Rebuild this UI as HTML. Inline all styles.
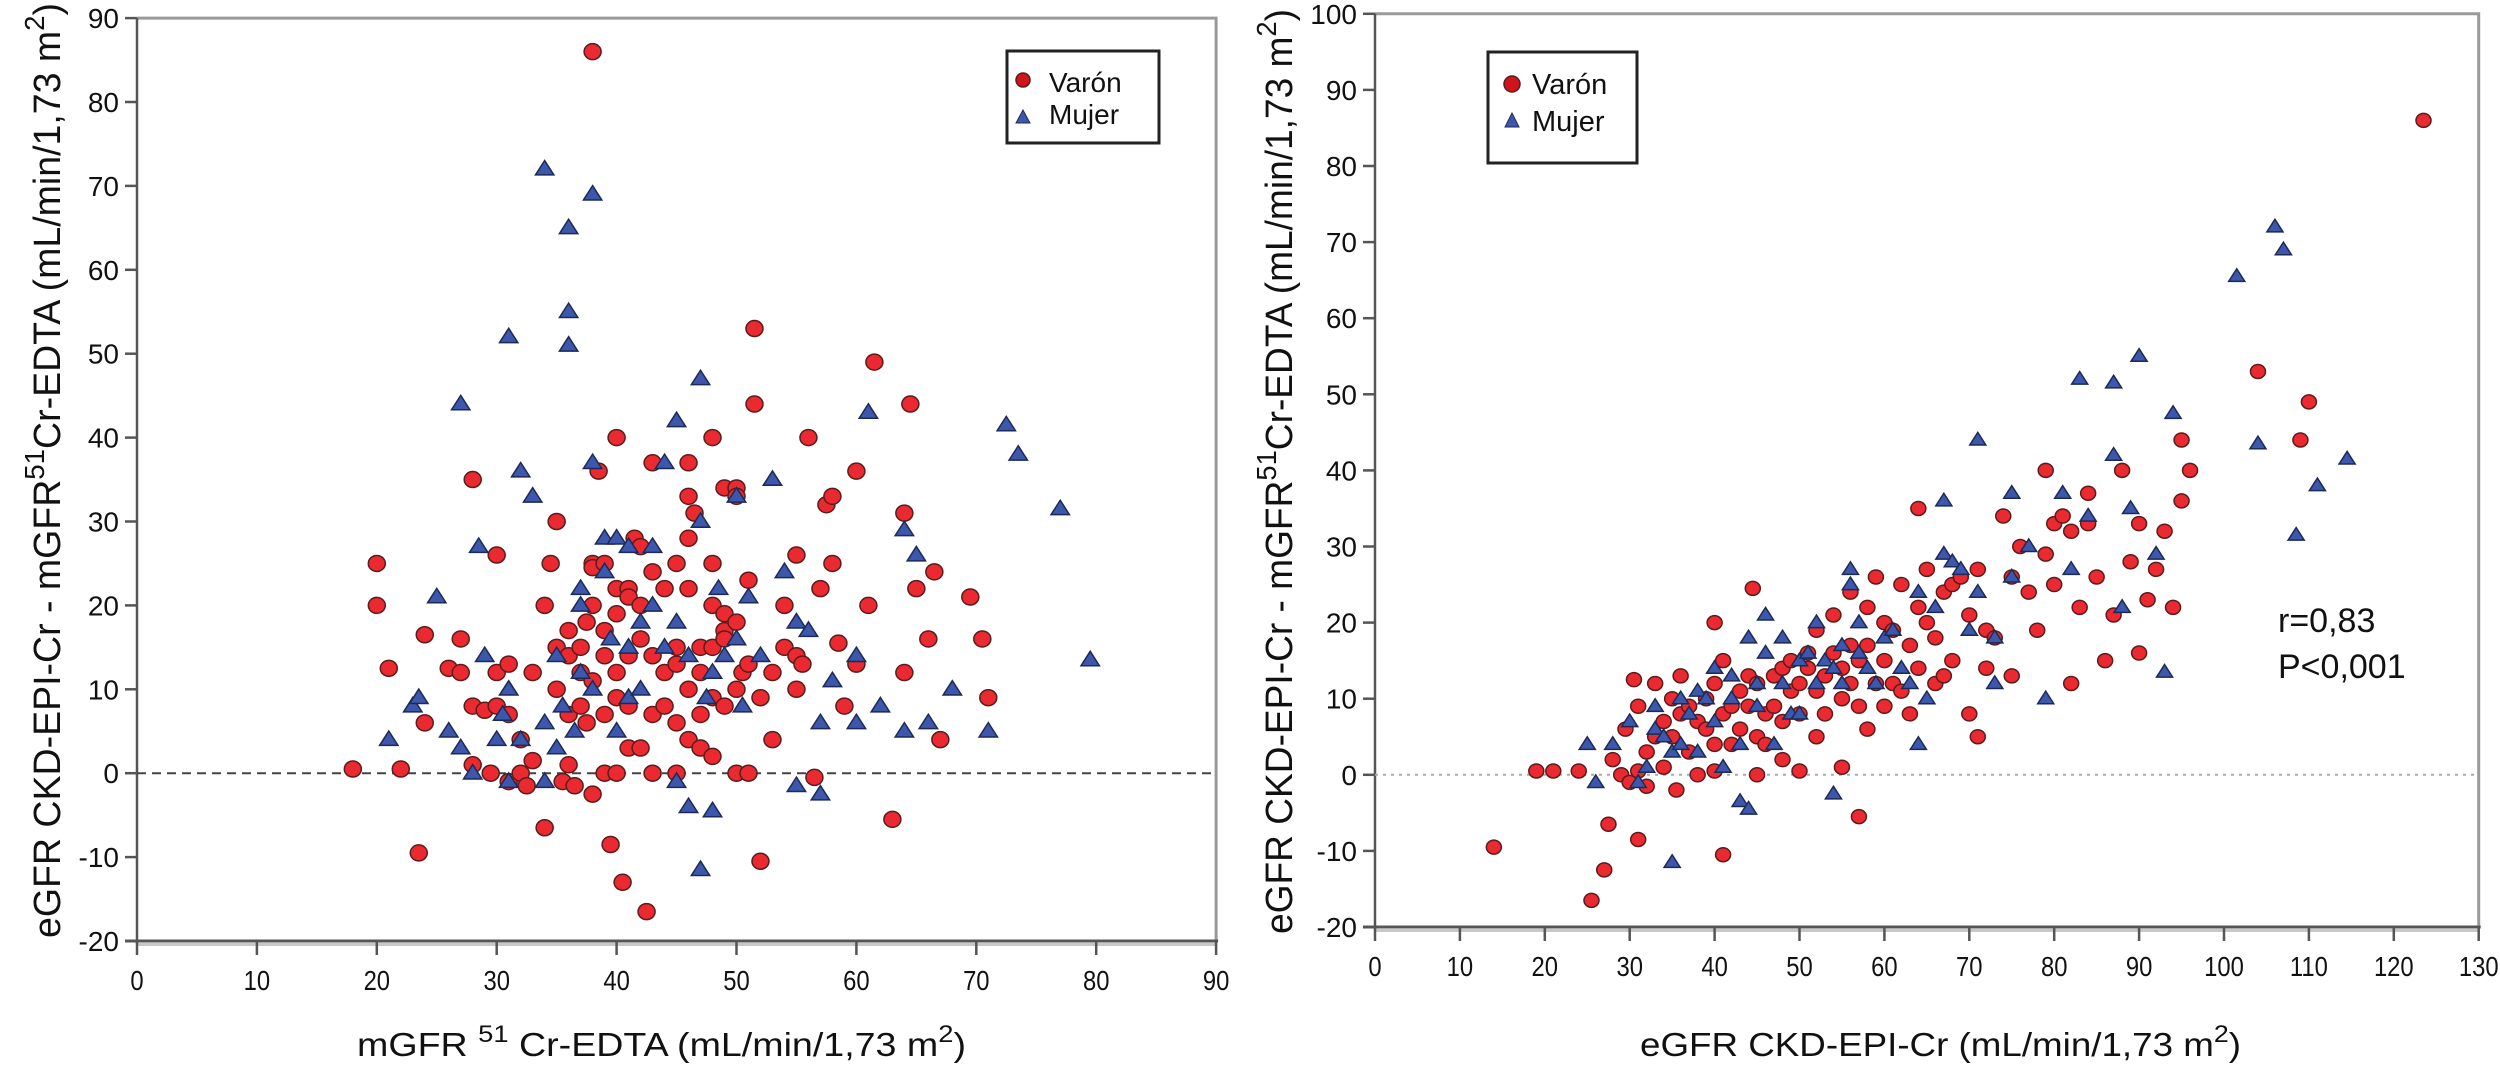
<!DOCTYPE html>
<html><head><meta charset="utf-8">
<style>
html,body{margin:0;padding:0;background:#fff;}
svg{display:block;font-family:"Liberation Sans",Arial,sans-serif;}
</style></head>
<body>
<svg id="chart" width="2500" height="1069" viewBox="0 0 2500 1069">
<g id="left"></g>
<g id="right"></g>
</svg>
<script>
// ---- Left chart data (mGFR vs difference) ----
const leftTicksX = [0,10,20,30,40,50,60,70,80,90];
const leftTicksY = [-20,-10,0,10,20,30,40,50,60,70,80,90];
const leftMenX = [18,20,20,21,22,23.5,24,24,26,27,27,28,28,28,29,29.5,30,30,30,31,31,31,32,32,32.5,33,33,34,34,34.5,35,35,35,35.5,36,36,36,36,36.5,37,37,37,37.5,37.5,38,38,38,38,38,38,38.5,39,39,39,39,39,39.5,40,40,40,40,40,40,40.5,41,41,41,41,41,41.5,42,42,42,42,42.5,43,43,43,43,43,44,44,44,45,45,45,45,45,46,46,46,46,46,46,46.5,47,47,47,47,48,48,48,48,48,48,49,49,49,49,49,50,50,50,50,50,50.5,51,51,51,51.5,51.5,52,52,53,53,54,54,55,55,55,55.5,56,56.5,57,57.5,58,58,58.5,59,60,60,61,61.5,63,64,64,64.5,65,66,66.5,67,69.5,70.5,71];
const leftMenY = [0.5,25,20,12.5,0.5,-9.5,16.5,6,12.5,16,12,35,8,1,7.5,0,26,12,8,13,7,-1,4,0,-1.5,1.5,12,20,-6.5,25,30,15,10,-1,17,14,7,1,-1.5,15,12,8,18,6,86,25,24.5,20,11,-2.5,36,25,17,14,7,0,-8.5,40,22,19,12,9,0,-13,22,21,14,8,3,28,27,20,16,3,-16.5,37,24,14,7,0,22,12,8,25,15,13,6,0,37,33,28,22,10,4,31,15,12,7,3,40,25,20,15,9,2,34,19,17,16,8,34,33,18,10,0,12,23,13,0,53,44,-10.5,9,12,4,20,15,26,14,10,13,40,-0.5,22,32,33,25,15.5,8,36,13,20,49,-5.5,31,12,44,22,16,24,4,21,16,9];
const leftWomenX = [21,23,23.5,25,26,27,27,28,28.5,29,30,30.5,31,31,31,32,32,33,34,34,34,35,35,35.5,36,36,36,36.5,37,37,37,38,38,38,39,39,39.5,40,40,41,41,41,42,42,43,43,44,44,45,45,45,46,46,47,47,47,47.5,48,48,48.5,49,50,50,50.5,51,52,53,54,55,55,56,57,57,58,60,60,61,62,64,64,65,66,68,71,72.5,73.5,77,79.5];
const leftWomenY = [4,8,9,21,5,44,3,0,27,14,4,7,52,-1,10,36,4,33,72,6,-1,14,3,8,55,51,65,5,22,12,20,69,37,10,28,24,16,28,5,27,9,15,10,18,20,27,37,15,42,18,-1,14,-4,47,30,-11.5,9,-4.5,12,22,14,33,16,8,21,14,35,24,18,-1.5,17,-2.5,6,11,14,6,43,8,29,5,26,6,10,5,41.5,38,31.5,13.5];

// ---- Right chart data (eGFR vs difference) ----
const rightTicksX = [0,10,20,30,40,50,60,70,80,90,100,110,120,130];
const rightTicksY = [-20,-10,0,10,20,30,40,50,60,70,80,90,100];
const rightMenX = [14,19,21,24,25.5,27,27.5,28,29,29.5,30,30.5,31,31,31,32,32,33,33,34,34,35,35,35.5,36,36,37,37,38,38,39,39,40,40,40,40,41,41,41,42,42,43,43,44,44,44.5,45,45,45,46,46,47,47,48,48,48,49,49,50,50,50,51,51,52,52,52,53,53,54,54,55,55,55,56,56,56,57,57,57,58,58,58,59,59,60,60,60,61,61,62,62,63,63,64,64,64,65,65,66,66,67,67,68,68,69,70,70,71,71,72,72,73,74,75,75,76,77,78,79,79,80,80,81,82,82,83,84,84,85,86,87,88,89,90,90,91,92,93,94,95,95,96,104,109,110,123.5];
const rightMenY = [-9.5,0.5,0.5,0.5,-16.5,-12.5,-6.5,2,0,6,-1,12.5,-8.5,9,0.5,3,-1.5,5,12,7,1,10,5,-2,13,8,3,9,7,0,10,6,20,12,4,0.5,-10.5,15,8,9,4,6,11,13,9,24.5,12,5,0,8,4,13,9,14,7,2,11,15,12,8,0.5,14,16,11,19,5,13,8,16,21,10,14,1,24,12,17,9,-5.5,15,17,22,6,12,26,9,15,20,19,12,11,25,17,8,35,22,14,20,27,12,18,13,24,25,15,26,21,8,27,5,14,19,18,34,13,26,30,24,19,29,40,33,25,34,32,12,22,37,33,26,15,21,40,28,16,33,23,27,32,22,44,36,40,53,44,49,86];
const rightWomenX = [25,26,28,30,31,32,33,33,34,35,35,36,36,37,38,38,39,40,40,41,42,42,43,43,44,44,45,45,46,46,47,48,48,49,50,50,51,52,52,53,54,54,55,55,56,56,57,57,58,59,60,61,62,63,64,64,65,66,67,67,68,69,70,71,71,73,73,75,75,77,79,81,82,83,84,87,87,88,89,90,92,93,94,101.5,104,106,107,108.5,111,114.5];
const rightWomenY = [4,-1,4,7,-1,1,6,9,5,-11.5,3,4,10,8,11,3,10,7,14,1,13,10,-3.5,4,-4.5,18,9,12,21,16,4,12,18,8,15,8,16,12,20,15,-2.5,14,12,17,27,25,16,20,14,12,18,19,14,12,4,24,10,22,29,36,28,27,19,44,24,12,18,37,26,30,10,37,27,52,34,51.5,42,22,35,55,29,13.5,47.5,65.5,43.5,72,69,31.5,38,41.5];

const NS = 'http://www.w3.org/2000/svg';
function mk(parent, tag, attrs, text){
  const el = document.createElementNS(NS, tag);
  for (const k in attrs) el.setAttribute(k, attrs[k]);
  if (text !== undefined) el.textContent = text;
  parent.appendChild(el);
  return el;
}

function drawChart(g, cfg){
  const sx = v => cfg.x0 + (v - cfg.xmin) * cfg.xs;
  const sy = v => cfg.y0 - (v - cfg.ymin) * cfg.ys;
  const left = sx(cfg.xmin), right = sx(cfg.xmax), top = sy(cfg.ymax), bottom = sy(cfg.ymin);
  // frame
  const frame = mk(g, 'path', {d:`M${left},${top} H${right} V${bottom}`, fill:'none', stroke:'#9a9a9a', 'stroke-width':3});
  
  
  const ya = mk(g, 'line', {x1:left, y1:top, x2:left, y2:bottom+2, stroke:'#555', 'stroke-width':2.5});
  
  
  const xa = mk(g, 'line', {x1:left-12, y1:bottom, x2:right+2, y2:bottom, stroke:'#555', 'stroke-width':3});
  
  
  mk(g, 'rect', {x:left, y:bottom+2, width:right-left, height:3, fill:'#c8c8c8'});
  // y ticks
  cfg.ticksY.forEach(t => {
    const y = sy(t);
    const tk = mk(g, 'line', {x1:left-12, y1:y, x2:left, y2:y, stroke:'#555', 'stroke-width':2.5});
    
    
    const lb = mk(g, 'text', {x:left-18, y:y+10, 'text-anchor':'end', 'font-size':28, fill:'#111'}, String(t));
    
    
  });
  // x ticks
  cfg.ticksX.forEach(t => {
    const x = sx(t);
    const tk = mk(g, 'line', {x1:x, y1:bottom, x2:x, y2:bottom+14, stroke:'#555', 'stroke-width':2.5});
    
    
    const lb = mk(g, 'text', {x:x, y:bottom+49, 'text-anchor':'middle', 'font-size':28, fill:'#111', transform:`translate(${x},0) scale(0.85,1) translate(${-x},0)`}, String(t));
    
    
  });
  // zero line
  const z = mk(g, 'line', {x1:left, y1:sy(0), x2:right, y2:sy(0), stroke:cfg.zeroColor, 'stroke-width':2, 'stroke-dasharray':cfg.zeroDash});
  
  
  // points: men
  cfg.menX.forEach((v, i) => {
    const c = mk(g, 'ellipse', {cx:sx(v), cy:sy(cfg.menY[i]), rx:cfg.r+0.5, ry:cfg.r, fill:'#ea2a30', stroke:'#5b1c1c', 'stroke-width':1.5});
    
    
  });
  cfg.womenX.forEach((v, i) => {
    const x = sx(v), y = sy(cfg.womenY[i]);
    const h = cfg.r*1.8, w = cfg.r*1.15;
    const p = mk(g, 'polygon', {points:`${x},${y-h*0.6} ${x-w},${y+h*0.4} ${x+w},${y+h*0.4}`, fill:'#3c57ab', stroke:'#1d2a55', 'stroke-width':1.5});
    
    
  });
}

drawChart(document.getElementById('left'), {
  x0:137, xmin:0, xmax:90, xs:11.99, y0:941, ymin:-20, ymax:90, ys:8.39,
  ticksX:leftTicksX, ticksY:leftTicksY, menX:leftMenX, menY:leftMenY, womenX:leftWomenX, womenY:leftWomenY,
  zeroColor:'#444', zeroDash:'9,6', r:8
});
drawChart(document.getElementById('right'), {
  x0:1375, xmin:0, xmax:130, xs:8.49, y0:927, ymin:-20, ymax:100, ys:7.61,
  ticksX:rightTicksX, ticksY:rightTicksY, menX:rightMenX, menY:rightMenY, womenX:rightWomenX, womenY:rightWomenY,
  zeroColor:'#aaa', zeroDash:'3,5', r:7
});
</script>
<svg width="0" height="0"></svg>
<script>
(function(){
const svg = document.getElementById('chart');
const NS='http://www.w3.org/2000/svg';
svg.insertAdjacentHTML('beforeend', `
<g>
  <rect x="1007" y="51" width="152" height="92" fill="#fff" stroke="#222" stroke-width="3"/>
  <ellipse cx="1023" cy="80" rx="7" ry="7" fill="#d0141b" stroke="#5b1c1c" stroke-width="1.5"/>
  <polygon points="1023,110 1016,123 1030,123" fill="#3c57ab" stroke="#1d2a55" stroke-width="1"/>
  <text x="1049" y="92" font-size="28" fill="#111">Varón</text>
  <text x="1049" y="124" font-size="28" fill="#111">Mujer</text>
</g>
<g>
  <rect x="1488" y="52" width="149" height="111" fill="#fff" stroke="#222" stroke-width="3"/>
  <ellipse cx="1512" cy="84" rx="8" ry="8" fill="#d0141b" stroke="#5b1c1c" stroke-width="1.5"/>
  <polygon points="1512,113 1505,127 1519,127" fill="#3c57ab" stroke="#1d2a55" stroke-width="1"/>
  <text x="1532" y="94" font-size="29" fill="#111">Varón</text>
  <text x="1532" y="131" font-size="29" fill="#111">Mujer</text>
</g>
<text x="2278" y="632" font-size="34" fill="#111">r=0,83</text>
<text x="2278" y="678" font-size="34" fill="#111">P&lt;0,001</text>
<text x="357" y="1056" font-size="33" fill="#111" textLength="609" lengthAdjust="spacingAndGlyphs">mGFR <tspan dy="-14" font-size="24">51</tspan><tspan dy="14"> Cr-EDTA (mL/min/1,73 m</tspan><tspan dy="-14" font-size="24">2</tspan><tspan dy="14">)</tspan></text>
<text x="1640" y="1056" font-size="33" fill="#111" textLength="601" lengthAdjust="spacingAndGlyphs">eGFR CKD-EPI-Cr (mL/min/1,73 m<tspan dy="-14" font-size="24">2</tspan><tspan dy="14">)</tspan></text>
<text transform="translate(60,938) rotate(-90)" x="0" y="0" font-size="38" fill="#111" textLength="935" lengthAdjust="spacingAndGlyphs">eGFR CKD-EPI-Cr - mGFR<tspan dy="-16" font-size="28">51</tspan><tspan dy="16">Cr-EDTA (mL/min/1,73 m</tspan><tspan dy="-16" font-size="28">2</tspan><tspan dy="16">)</tspan></text>
<text transform="translate(1292,934) rotate(-90)" x="0" y="0" font-size="38" fill="#111" textLength="925" lengthAdjust="spacingAndGlyphs">eGFR CKD-EPI-Cr - mGFR<tspan dy="-16" font-size="28">51</tspan><tspan dy="16">Cr-EDTA (mL/min/1,73 m</tspan><tspan dy="-16" font-size="28">2</tspan><tspan dy="16">)</tspan></text>
`);
})();
</script>
</body></html>
